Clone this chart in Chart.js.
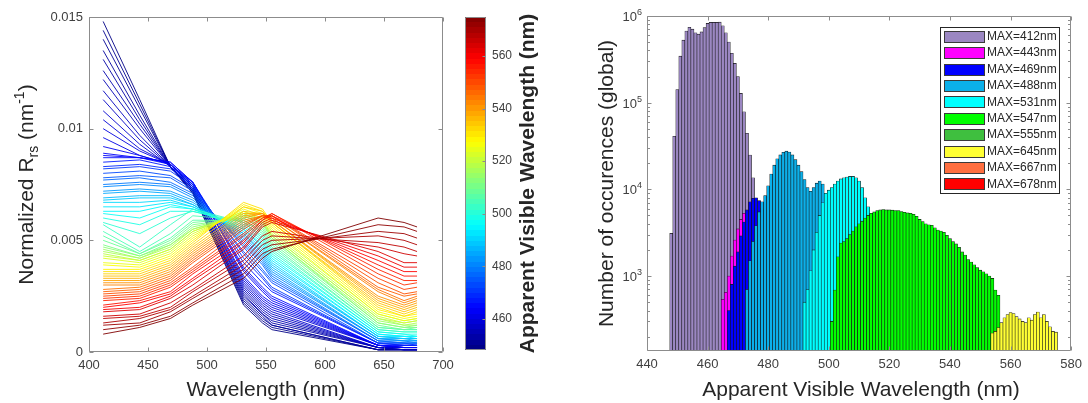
<!DOCTYPE html>
<html>
<head>
<meta charset="utf-8">
<script src="https://cdn.jsdelivr.net/npm/chart.js@4.4.1/dist/chart.umd.min.js"></script>
<style>
  html, body { margin: 0; padding: 0; background: #fff; }
  body { width: 1088px; height: 403px; position: relative; overflow: hidden; }
  .panel { position: absolute; top: 0; height: 403px; }
  #spectraBox { left: 0; width: 460px; }
  #cbarBox { left: 450px; width: 100px; }
  #histBox { left: 560px; width: 528px; }
</style>
</head>
<body>
<div class="panel" id="spectraBox"><canvas id="spectraChart"></canvas></div>
<div class="panel" id="cbarBox"><canvas id="cbarChart"></canvas></div>
<div class="panel" id="histBox"><canvas id="histChart"></canvas></div>
<script>
// ---- left panel: normalized Rrs spectra, one line per apparent visible wavelength
const bands = [412, 443, 469, 488, 531, 547, 555, 645, 667, 678];

const spectraAvw = [
  449, 450, 451, 452, 453, 454, 455, 456, 457, 458, 459, 460, 461, 462, 463, 464,
  465, 467, 469, 471, 473, 475, 477,
  479, 481, 483, 485, 487, 489,
  491, 493, 495, 497, 499,
  501, 503, 505, 507, 509, 511, 513, 515,
  517, 519, 521, 523,
  525, 527, 529, 531, 533,
  535, 537, 539, 541, 543, 545, 547, 549,
  551, 553, 555, 557, 559, 561, 563,
  565, 567, 569, 571, 573, 575
];

const spectra = [
  [0.0148, 0.0113, 0.0083, 0.0071, 0.0021, 0.0013, 0.0010, 0.0001, 0.0001, 0.0001],
  [0.0144, 0.0111, 0.0083, 0.0071, 0.0022, 0.0014, 0.0011, 0.0001, 0.0001, 0.0001],
  [0.0140, 0.0109, 0.0083, 0.0072, 0.0023, 0.0015, 0.0012, 0.0001, 0.0001, 0.0001],
  [0.0135, 0.0106, 0.0083, 0.0072, 0.0024, 0.0016, 0.0012, 0.0001, 0.0001, 0.0001],
  [0.0131, 0.0104, 0.0083, 0.0072, 0.0025, 0.0017, 0.0013, 0.0002, 0.0001, 0.0001],
  [0.0126, 0.0102, 0.0083, 0.0072, 0.0026, 0.0017, 0.0014, 0.0002, 0.0001, 0.0001],
  [0.0122, 0.0100, 0.0083, 0.0073, 0.0027, 0.0018, 0.0015, 0.0002, 0.0001, 0.0001],
  [0.0117, 0.0097, 0.0083, 0.0073, 0.0028, 0.0019, 0.0016, 0.0002, 0.0001, 0.0001],
  [0.0113, 0.0095, 0.0083, 0.0073, 0.0029, 0.0020, 0.0017, 0.0002, 0.0002, 0.0002],
  [0.0108, 0.0093, 0.0083, 0.0074, 0.0030, 0.0021, 0.0018, 0.0002, 0.0002, 0.0002],
  [0.0104, 0.0091, 0.0084, 0.0074, 0.0031, 0.0022, 0.0019, 0.0003, 0.0002, 0.0002],
  [0.0100, 0.0090, 0.0084, 0.0074, 0.0032, 0.0023, 0.0020, 0.0003, 0.0002, 0.0002],
  [0.0096, 0.0088, 0.0084, 0.0075, 0.0033, 0.0024, 0.0021, 0.0003, 0.0002, 0.0002],
  [0.0092, 0.0088, 0.0084, 0.0075, 0.0034, 0.0025, 0.0022, 0.0003, 0.0002, 0.0002],
  [0.0089, 0.0087, 0.0085, 0.0076, 0.0036, 0.0027, 0.0023, 0.0003, 0.0002, 0.0002],
  [0.0088, 0.0087, 0.0085, 0.0076, 0.0037, 0.0028, 0.0024, 0.0003, 0.0003, 0.0003],

  [0.0087, 0.0087, 0.0084, 0.0076, 0.0038, 0.0029, 0.0025, 0.0003, 0.0003, 0.0003],
  [0.0085, 0.0086, 0.0083, 0.0076, 0.0040, 0.0031, 0.0027, 0.0004, 0.0003, 0.0003],
  [0.0083, 0.0084, 0.0082, 0.0075, 0.0042, 0.0033, 0.0028, 0.0004, 0.0003, 0.0003],
  [0.0082, 0.0083, 0.0081, 0.0074, 0.0044, 0.0034, 0.0029, 0.0004, 0.0004, 0.0003],
  [0.0080, 0.0081, 0.0079, 0.0073, 0.0045, 0.0036, 0.0031, 0.0004, 0.0004, 0.0004],
  [0.0078, 0.0079, 0.0078, 0.0072, 0.0047, 0.0037, 0.0032, 0.0005, 0.0004, 0.0004],
  [0.0077, 0.0078, 0.0076, 0.0071, 0.0048, 0.0039, 0.0033, 0.0005, 0.0004, 0.0004],

  [0.0075, 0.0076, 0.0075, 0.0070, 0.0049, 0.0040, 0.0034, 0.0005, 0.0005, 0.0004],
  [0.0074, 0.0075, 0.0074, 0.0069, 0.0050, 0.0041, 0.0035, 0.0006, 0.0005, 0.0005],
  [0.0072, 0.0073, 0.0072, 0.0068, 0.0051, 0.0042, 0.0036, 0.0006, 0.0005, 0.0005],
  [0.0071, 0.0072, 0.0071, 0.0067, 0.0052, 0.0043, 0.0037, 0.0006, 0.0006, 0.0005],
  [0.0069, 0.0070, 0.0070, 0.0066, 0.0053, 0.0044, 0.0038, 0.0007, 0.0006, 0.0006],
  [0.0068, 0.0069, 0.0069, 0.0066, 0.0053, 0.0045, 0.0039, 0.0007, 0.0006, 0.0006],

  [0.0067, 0.0067, 0.0068, 0.0065, 0.0054, 0.0046, 0.0040, 0.0007, 0.0007, 0.0006],
  [0.0065, 0.0065, 0.0067, 0.0065, 0.0055, 0.0047, 0.0041, 0.0008, 0.0007, 0.0007],
  [0.0063, 0.0063, 0.0066, 0.0064, 0.0055, 0.0048, 0.0042, 0.0008, 0.0007, 0.0007],
  [0.0062, 0.0060, 0.0065, 0.0064, 0.0056, 0.0049, 0.0043, 0.0009, 0.0008, 0.0007],
  [0.0060, 0.0057, 0.0063, 0.0063, 0.0057, 0.0050, 0.0044, 0.0009, 0.0008, 0.0008],

  [0.0058, 0.0053, 0.0060, 0.0063, 0.0058, 0.0051, 0.0045, 0.0010, 0.0009, 0.0009],
  [0.0057, 0.0047, 0.0057, 0.0064, 0.0058, 0.0052, 0.0046, 0.0010, 0.0009, 0.0009],
  [0.0054, 0.0045, 0.0053, 0.0061, 0.0059, 0.0053, 0.0047, 0.0011, 0.0010, 0.0010],
  [0.0052, 0.0044, 0.0051, 0.0059, 0.0059, 0.0054, 0.0048, 0.0011, 0.0010, 0.0010],
  [0.0050, 0.0044, 0.0050, 0.0058, 0.0060, 0.0055, 0.0049, 0.0012, 0.0010, 0.0011],
  [0.0048, 0.0043, 0.0049, 0.0057, 0.0060, 0.0056, 0.0050, 0.0013, 0.0011, 0.0011],
  [0.0047, 0.0043, 0.0048, 0.0056, 0.0061, 0.0057, 0.0051, 0.0013, 0.0011, 0.0012],
  [0.0046, 0.0042, 0.0048, 0.0055, 0.0061, 0.0058, 0.0051, 0.0014, 0.0012, 0.0012],

  [0.0045, 0.0042, 0.0047, 0.0055, 0.0062, 0.0058, 0.0052, 0.0015, 0.0012, 0.0013],
  [0.0044, 0.0041, 0.0046, 0.0054, 0.0062, 0.0059, 0.0052, 0.0015, 0.0013, 0.0014],
  [0.0043, 0.0041, 0.0046, 0.0054, 0.0063, 0.0059, 0.0053, 0.0016, 0.0013, 0.0014],
  [0.0042, 0.0040, 0.0045, 0.0053, 0.0063, 0.0060, 0.0054, 0.0017, 0.0014, 0.0015],

  [0.0040, 0.0039, 0.0044, 0.0052, 0.0064, 0.0061, 0.0055, 0.0017, 0.0014, 0.0015],
  [0.0039, 0.0038, 0.0043, 0.0051, 0.0065, 0.0062, 0.0056, 0.0018, 0.0015, 0.0016],
  [0.0037, 0.0037, 0.0042, 0.0050, 0.0066, 0.0063, 0.0057, 0.0019, 0.0016, 0.0017],
  [0.0036, 0.0036, 0.0041, 0.0049, 0.0067, 0.0064, 0.0058, 0.0020, 0.0016, 0.0018],
  [0.0035, 0.0035, 0.0040, 0.0048, 0.0065, 0.0063, 0.0058, 0.0021, 0.0017, 0.0019],

  [0.0034, 0.0034, 0.0039, 0.0047, 0.0063, 0.0062, 0.0058, 0.0022, 0.0018, 0.0020],
  [0.0033, 0.0033, 0.0038, 0.0046, 0.0062, 0.0062, 0.0059, 0.0023, 0.0019, 0.0021],
  [0.0032, 0.0032, 0.0037, 0.0045, 0.0061, 0.0062, 0.0059, 0.0024, 0.0020, 0.0022],
  [0.0031, 0.0031, 0.0036, 0.0044, 0.0060, 0.0062, 0.0059, 0.0025, 0.0021, 0.0023],
  [0.0030, 0.0030, 0.0035, 0.0043, 0.0059, 0.0061, 0.0060, 0.0027, 0.0022, 0.0024],
  [0.0028, 0.0029, 0.0034, 0.0042, 0.0058, 0.0061, 0.0060, 0.0028, 0.0023, 0.0025],
  [0.0027, 0.0028, 0.0033, 0.0041, 0.0057, 0.0061, 0.0061, 0.0029, 0.0025, 0.0026],
  [0.0026, 0.0027, 0.0032, 0.0040, 0.0056, 0.0061, 0.0061, 0.0031, 0.0026, 0.0027],

  [0.0025, 0.0026, 0.0031, 0.0038, 0.0055, 0.0060, 0.0061, 0.0033, 0.0028, 0.0029],
  [0.0024, 0.0025, 0.0030, 0.0037, 0.0053, 0.0060, 0.0062, 0.0035, 0.0030, 0.0031],
  [0.0023, 0.0024, 0.0029, 0.0036, 0.0052, 0.0059, 0.0062, 0.0037, 0.0032, 0.0032],
  [0.0021, 0.0023, 0.0027, 0.0035, 0.0050, 0.0059, 0.0061, 0.0039, 0.0034, 0.0034],
  [0.0020, 0.0022, 0.0026, 0.0033, 0.0049, 0.0058, 0.0060, 0.0041, 0.0036, 0.0036],
  [0.0019, 0.0020, 0.0025, 0.0032, 0.0047, 0.0057, 0.0059, 0.0043, 0.0038, 0.0038],
  [0.0018, 0.0019, 0.0024, 0.0030, 0.0046, 0.0056, 0.0058, 0.0045, 0.0040, 0.0040],

  [0.0016, 0.0017, 0.0022, 0.0028, 0.0043, 0.0052, 0.0054, 0.0047, 0.0044, 0.0043],
  [0.0015, 0.0016, 0.0020, 0.0027, 0.0041, 0.0050, 0.0052, 0.0049, 0.0047, 0.0045],
  [0.0013, 0.0015, 0.0019, 0.0025, 0.0039, 0.0048, 0.0050, 0.0052, 0.0050, 0.0048],
  [0.0012, 0.0013, 0.0018, 0.0024, 0.0037, 0.0046, 0.0048, 0.0054, 0.0053, 0.0051],
  [0.0010, 0.0012, 0.0016, 0.0022, 0.0035, 0.0044, 0.0046, 0.0057, 0.0056, 0.0054],
  [0.0008, 0.0011, 0.0015, 0.0021, 0.0033, 0.0042, 0.0045, 0.0060, 0.0058, 0.0056]
];

const spectraXTicks = [400, 450, 500, 550, 600, 650, 700];
const spectraYTicks = [0, 0.005, 0.01, 0.015];
const spectraYLabels = ['0', '0.005', '0.01', '0.015'];

// colour bar
const cbarRange = [448.2, 574.8];
const cbarTicks = [460, 480, 500, 520, 540, 560];

// ---- right panel: histogram of apparent visible wavelength, by band of max Rrs
const maxBands = [412, 443, 469, 488, 531, 547, 555, 645, 667, 678];
const maxColors = ['#9b87c2', '#ff00ff', '#0000ff', '#0bb0ea', '#00ffff',
                   '#00ff00', '#3fbf3f', '#ffff33', '#ff6f40', '#ff0000'];

const counts412 = [3100, 41000, 142000, 344000, 527000, 670000, 740000, 706000, 640000, 618000,
                   656000, 733000, 822000, 844000, 844000, 844000, 850000, 771000, 640000, 500000,
                   371000, 284000, 200000, 128000, 78500, 44300, 24900, 13600];
const counts443 = [540, 650, 1000, 1700, 2600, 3500, 4500, 5300];
const counts469 = [400, 800, 1300, 1900, 2900, 4200, 5800, 7200, 7900, 8000, 7400, 6000];
const counts488 = [700, 1500, 2500, 3800, 5500, 7200, 8500, 11000, 15000, 19000,
                   22500, 25000, 26800, 27600, 27000, 25000, 22000, 19000, 16000, 13000,
                   10500, 9500, 10500, 11800, 12500, 11500, 8000, 4000, 1500, 600];
const counts531 = [500, 700, 1150, 2000, 3200, 5000, 7000, 9000, 9800, 10500,
                   11500, 12500, 13200, 13600, 13900, 14100, 14100, 13600, 12500, 10500,
                   8000, 6300, 5200];
const counts547 = [300, 690, 1670, 2400, 2500, 2700, 3000, 3300, 3700, 4000,
                   4300, 4660, 5000, 5300, 5500, 5700, 5800, 5850, 5800, 5800,
                   5750, 5700, 5700, 5550, 5450, 5350, 5300, 5150, 4900, 4500,
                   4250, 4000, 3900, 3850, 3600, 3400, 3300, 3200, 2950, 2700,
                   2500, 2350, 2150, 1900, 1750, 1550, 1450, 1350, 1250, 1170,
                   1120, 1060, 1000, 940, 690, 600];
const counts555 = [];
const counts645 = [220, 230, 255, 290, 330, 360, 380, 370, 340, 320,
                   300, 290, 330, 310, 360, 385, 330, 360, 300, 260,
                   230, 225];
const counts667 = [];
const counts678 = [];

// first 1-nm bin of each band's histogram
const histFirstBin = [448, 465, 467, 473, 492, 501, 0, 554, 0, 0];
const histCounts = [counts412, counts443, counts469, counts488, counts531,
                    counts547, counts555, counts645, counts667, counts678];

const histXTicks = [440, 460, 480, 500, 520, 540, 560, 580];
const histDecades = [3, 4, 5, 6];
const histYMin = 136.5;

// ---- styling helpers
const fontFamily = '"Liberation Sans", Arial, Helvetica, sans-serif';
const tickColor = '#404040';
const titleColor = '#262626';
const boxColor = '#8c8c8c';

Chart.defaults.font.family = fontFamily;
Chart.defaults.color = tickColor;
Chart.defaults.animation = false;

function jet(t) {
  t = Math.min(1, Math.max(0, t));
  const c = v => Math.round(255 * Math.min(1, Math.max(0, v)));
  return `rgb(${c(1.5 - Math.abs(4 * t - 3))},${c(1.5 - Math.abs(4 * t - 2))},${c(1.5 - Math.abs(4 * t - 1))})`;
}
const avwColor = w => jet((w - cbarRange[0]) / (cbarRange[1] - cbarRange[0]));

const snap = v => Math.round(v) + 0.5;

// box round the axes with inward ticks on all sides
const frame = {
  id: 'frame',
  afterDatasetsDraw(chart, args, o) {
    const {ctx, chartArea: a, scales} = chart;
    const L = Math.round(a.left) + 0.5, R = Math.round(a.right) - 0.5;
    const T = Math.round(a.top) + 0.5, B = Math.round(a.bottom) - 0.5;
    ctx.save();
    ctx.strokeStyle = boxColor;
    ctx.lineWidth = 1;
    ctx.beginPath();
    ctx.rect(L, T, R - L, B - T);
    (o.xTicks || []).forEach(v => {
      const px = snap(scales.x.getPixelForValue(v));
      ctx.moveTo(px, B); ctx.lineTo(px, B - o.len);
      ctx.moveTo(px, T); ctx.lineTo(px, T + o.len);
    });
    const yTick = (v, len) => {
      const py = snap(scales.y.getPixelForValue(v));
      if (o.left !== false) { ctx.moveTo(L, py); ctx.lineTo(L + len, py); }
      ctx.moveTo(R, py); ctx.lineTo(R - len, py);
    };
    (o.yTicks || []).forEach(v => yTick(v, o.len));
    (o.yMinor || []).forEach(v => yTick(v, o.minorLen));
    ctx.stroke();
    ctx.restore();
  }
};

// axis titles made of runs of text (for sub- and superscripts)
function drawRuns(ctx, item) {
  ctx.save();
  ctx.translate(item.x, item.y);
  ctx.rotate(item.angle || 0);
  ctx.fillStyle = titleColor;
  ctx.textBaseline = 'alphabetic';
  ctx.textAlign = 'left';
  const fontOf = r => `${item.bold ? 'bold ' : ''}${r.size}px ${fontFamily}`;
  let total = 0;
  const widths = item.runs.map(r => {
    ctx.font = fontOf(r);
    const w = ctx.measureText(r.text).width;
    total += w;
    return w;
  });
  let x = -total / 2;
  item.runs.forEach((r, i) => {
    ctx.font = fontOf(r);
    ctx.fillText(r.text, x, r.dy || 0);
    x += widths[i];
  });
  ctx.restore();
}

const titles = {
  id: 'titles',
  afterDraw(chart, args, o) {
    (o.items || []).forEach(item => drawRuns(chart.ctx, item));
  }
};

// 10^n labels on the log axis
const decadeLabels = {
  id: 'decadeLabels',
  afterDraw(chart, args, o) {
    const {ctx, chartArea: a, scales} = chart;
    ctx.save();
    ctx.fillStyle = tickColor;
    ctx.textBaseline = 'middle';
    ctx.textAlign = 'left';
    (o.exponents || []).forEach(e => {
      const py = scales.y.getPixelForValue(10 ** e);
      ctx.font = `13px ${fontFamily}`;
      const w1 = ctx.measureText('10').width;
      ctx.font = `9px ${fontFamily}`;
      const w2 = ctx.measureText(String(e)).width;
      const x0 = a.left - 5 - w1 - w2;
      ctx.font = `13px ${fontFamily}`;
      ctx.fillText('10', x0, py + 1.5);
      ctx.font = `9px ${fontFamily}`;
      ctx.fillText(String(e), x0 + w1, py - 3.5);
    });
    ctx.restore();
  }
};

// legend box inside the plot, top right
const boxLegend = {
  id: 'boxLegend',
  afterDraw(chart, args, o) {
    const {ctx, chartArea: a} = chart;
    const sets = chart.data.datasets;
    const h = o.rowHeight * sets.length + 2 * o.pad;
    const left = Math.round(a.right - o.right - o.width);
    const top = Math.round(a.top + o.top);
    ctx.save();
    ctx.fillStyle = '#fff';
    ctx.fillRect(left, top, o.width, h);
    ctx.strokeStyle = '#262626';
    ctx.lineWidth = 1;
    ctx.strokeRect(left + 0.5, top + 0.5, o.width, h);
    ctx.font = `12px ${fontFamily}`;
    ctx.textBaseline = 'middle';
    ctx.textAlign = 'left';
    sets.forEach((ds, i) => {
      const cy = top + o.pad + o.rowHeight * (i + 0.5);
      const sy = Math.round(cy - 5.5);
      ctx.fillStyle = ds.backgroundColor;
      ctx.fillRect(left + 4, sy, 40, 11);
      ctx.strokeStyle = '#3a3a3a';
      ctx.strokeRect(left + 4.5, sy + 0.5, 40, 11);
      ctx.fillStyle = titleColor;
      ctx.fillText(ds.label, left + 47, cy + 0.5);
    });
    ctx.restore();
  }
};

const setTicks = values => scale => { scale.ticks = values.map(v => ({value: v})); };
const plainGrid = {display: false, drawTicks: false};

// ---- left: spectra
new Chart(document.getElementById('spectraChart'), {
  type: 'line',
  data: {
    datasets: spectra.map((row, i) => ({
      data: row.map((v, j) => ({x: bands[j], y: v})),
      borderColor: avwColor(spectraAvw[i]),
      borderWidth: 0.9,
      pointRadius: 0,
      tension: 0,
      order: spectra.length - i
    }))
  },
  options: {
    responsive: true,
    maintainAspectRatio: false,
    events: [],
    layout: {padding: {top: 17, right: 17, bottom: 0, left: 0}},
    plugins: {
      legend: {display: false},
      tooltip: {enabled: false},
      frame: {xTicks: spectraXTicks, yTicks: spectraYTicks, len: 4},
      titles: {items: [
        {x: 266, y: 396, runs: [{text: 'Wavelength (nm)', size: 21}]},
        {x: 33, y: 184.5, angle: -Math.PI / 2, runs: [
          {text: 'Normalized R', size: 21},
          {text: 'rs', size: 14, dy: 5},
          {text: ' (nm', size: 21},
          {text: '-1', size: 14, dy: -9},
          {text: ')', size: 21}
        ]}
      ]}
    },
    scales: {
      x: {
        type: 'linear', min: 400, max: 700,
        grid: plainGrid, border: {display: false},
        afterBuildTicks: setTicks(spectraXTicks),
        afterFit: s => { s.height = 51; },
        ticks: {font: {size: 13}, padding: 6, maxRotation: 0, autoSkip: false, callback: v => String(v)}
      },
      y: {
        type: 'linear', min: 0, max: 0.015,
        grid: plainGrid, border: {display: false},
        afterBuildTicks: setTicks(spectraYTicks),
        afterFit: s => { s.width = 89; },
        ticks: {font: {size: 13}, padding: 6, autoSkip: false, callback: (v, i) => spectraYLabels[i]}
      }
    }
  },
  plugins: [frame, titles]
});

// ---- colour bar
function jetGradient(c) {
  const chart = c.chart;
  if (!chart.chartArea) return 'transparent';
  const y = chart.scales.y;
  const g = chart.ctx.createLinearGradient(0, y.getPixelForValue(cbarRange[0]), 0, y.getPixelForValue(cbarRange[1]));
  const n = 64;
  for (let k = 0; k < n; k++) {
    const col = jet((k + 0.5) / n);
    g.addColorStop(k / n, col);
    g.addColorStop((k + 1) / n, col);
  }
  return g;
}

new Chart(document.getElementById('cbarChart'), {
  type: 'bar',
  data: {
    labels: [''],
    datasets: [{data: [cbarRange], backgroundColor: jetGradient, borderWidth: 0,
                barPercentage: 1, categoryPercentage: 1}]
  },
  options: {
    responsive: true,
    maintainAspectRatio: false,
    events: [],
    layout: {padding: {top: 17, right: 0, bottom: 53, left: 15}},
    plugins: {
      legend: {display: false},
      tooltip: {enabled: false},
      frame: {yTicks: cbarTicks, len: 3, left: false},
      titles: {items: [
        {x: 84, y: 183.5, angle: -Math.PI / 2, bold: true,
         runs: [{text: 'Apparent Visible Wavelength (nm)', size: 21}]}
      ]}
    },
    scales: {
      x: {display: false},
      y: {
        position: 'right', min: cbarRange[0], max: cbarRange[1],
        grid: plainGrid, border: {display: false},
        afterBuildTicks: setTicks(cbarTicks),
        afterFit: s => { s.width = 64; },
        ticks: {font: {size: 12}, padding: 6, autoSkip: false}
      }
    }
  },
  plugins: [frame, titles]
});

// ---- right: histogram
const histMinor = [];
for (let e = 2; e < 6; e++) {
  for (let m = 2; m <= 9; m++) {
    const v = m * 10 ** e;
    if (v > histYMin) histMinor.push(v);
  }
}

new Chart(document.getElementById('histChart'), {
  type: 'bar',
  data: {
    datasets: maxBands.map((b, k) => ({
      label: `MAX=${b}nm`,
      data: histCounts[k].map((c, i) => ({x: histFirstBin[k] + i, y: c})),
      backgroundColor: maxColors[k],
      borderColor: '#141414',
      borderWidth: 0.6,
      grouped: false,
      barPercentage: 1,
      categoryPercentage: 1,
      order: maxBands.length - k
    }))
  },
  options: {
    responsive: true,
    maintainAspectRatio: false,
    events: [],
    layout: {padding: {top: 16, right: 13, bottom: 0, left: 0}},
    plugins: {
      legend: {display: false},
      tooltip: {enabled: false},
      frame: {xTicks: histXTicks, yTicks: histDecades.map(e => 10 ** e), yMinor: histMinor, len: 4, minorLen: 2.5},
      decadeLabels: {exponents: histDecades},
      boxLegend: {width: 119, rowHeight: 16.4, pad: 1, right: 12, top: 11},
      titles: {items: [
        {x: 301, y: 396, runs: [{text: 'Apparent Visible Wavelength (nm)', size: 21}]},
        {x: 53, y: 183.5, angle: -Math.PI / 2, runs: [{text: 'Number of occurences (global)', size: 21}]}
      ]}
    },
    scales: {
      x: {
        type: 'linear', min: 440, max: 580, offset: false,
        grid: {display: false, drawTicks: false, offset: false}, border: {display: false},
        afterBuildTicks: setTicks(histXTicks),
        afterFit: s => { s.height = 52; },
        ticks: {font: {size: 13}, padding: 6, maxRotation: 0, autoSkip: false, callback: v => String(v)}
      },
      y: {
        type: 'logarithmic', min: histYMin, max: 1e6,
        grid: plainGrid, border: {display: false},
        afterBuildTicks: setTicks(histDecades.map(e => 10 ** e)),
        afterFit: s => { s.width = 87; },
        ticks: {display: false}
      }
    }
  },
  plugins: [frame, decadeLabels, boxLegend, titles]
});
</script>
</body>
</html>
